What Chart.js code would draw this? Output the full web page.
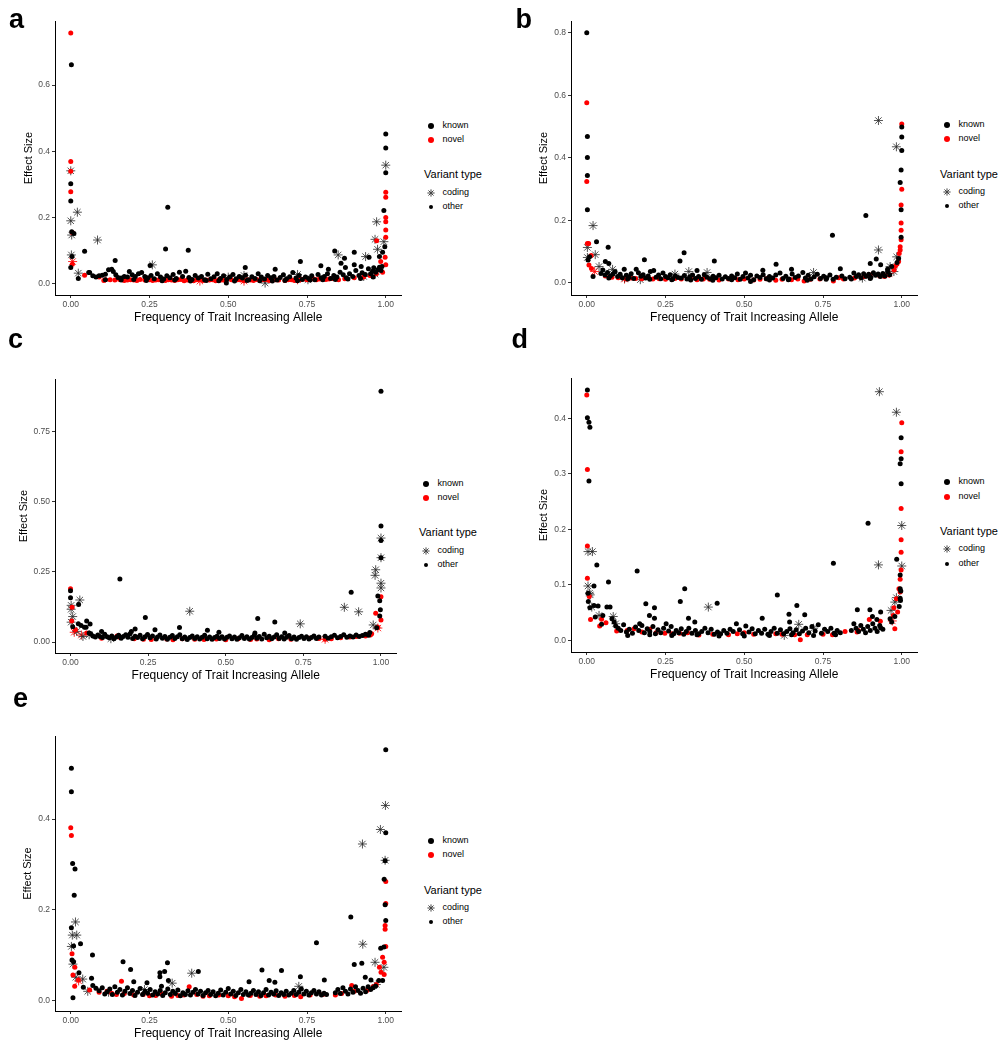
<!DOCTYPE html>
<html><head><meta charset="utf-8">
<script src="https://cdn.jsdelivr.net/npm/chart.js@4.4.1/dist/chart.umd.min.js"></script>
<style>
html,body{margin:0;padding:0;background:#fff;}
body{width:1008px;height:1050px;position:relative;overflow:hidden;font-family:"Liberation Sans",Arial,sans-serif;}
.box{position:absolute;}
.lbl{position:absolute;font-weight:bold;font-size:27px;line-height:27px;color:#000;white-space:nowrap;}
.lt{position:absolute;white-space:nowrap;color:#000;}
.dot{position:absolute;border-radius:50%;}
</style>
</head><body>
<script>
// ---------- tick / label data ----------
const xTicks=[0,0.25,0.5,0.75,1];
const xTickLabels=['0.00','0.25','0.50','0.75','1.00'];
const aYTicks=[0,0.2,0.4,0.6];       const aYTickLabels=['0.0','0.2','0.4','0.6'];
const bYTicks=[0,0.2,0.4,0.6,0.8];   const bYTickLabels=['0.0','0.2','0.4','0.6','0.8'];
const cYTicks=[0,0.25,0.5,0.75];     const cYTickLabels=['0.00','0.25','0.50','0.75'];
const dYTicks=[0,0.1,0.2,0.3,0.4];   const dYTickLabels=['0.0','0.1','0.2','0.3','0.4'];
const eYTicks=[0,0.2,0.4];           const eYTickLabels=['0.0','0.2','0.4'];
const xTitle='Frequency of Trait Increasing Allele';
const yTitle='Effect Size';
const colourLabels=['known','novel'];
const shapeTitle='Variant type';
const shapeLabels=['coding','other'];
const panelLetters=['a','b','c','d','e'];

// ---------- panel a ----------
const aKnownOther=[[0.002,0.661],[0.0,0.302],[0.0,0.25],[0.003,0.157],[0.01,0.152],[0.004,0.082],[0.0,0.049],[0.044,0.098],[0.024,0.016],[0.057,0.034],[0.308,0.231],[0.301,0.105],[0.373,0.101],[0.252,0.055],[0.141,0.07],[0.554,0.049],[0.649,0.044],[0.729,0.067],[0.794,0.054],[0.818,0.044],[0.838,0.099],[0.869,0.077],[0.858,0.062],[0.872,0.049],[0.9,0.095],[0.9,0.057],[0.922,0.052],[0.947,0.08],[0.494,0.002],[1.0,0.452],[1.0,0.41],[1.0,0.335],[0.994,0.221],[0.997,0.112],[0.99,0.095],[0.98,0.082],[0.988,0.052],
[0.06,0.034],[0.07,0.024],[0.08,0.02],[0.09,0.024],[0.1,0.026],[0.11,0.029],[0.12,0.042],[0.13,0.044],[0.135,0.037],[0.143,0.027],[0.15,0.019],[0.16,0.017],[0.17,0.022],[0.18,0.02],[0.186,0.037],[0.195,0.027],[0.205,0.022],[0.215,0.03],[0.225,0.034],[0.235,0.022],[0.245,0.018],[0.255,0.025],[0.265,0.015],[0.275,0.03],[0.285,0.02],[0.295,0.014],[0.305,0.024],[0.315,0.018],[0.325,0.028],[0.335,0.016],[0.345,0.035],[0.355,0.022],[0.365,0.038],[0.375,0.019],[0.385,0.013],[0.395,0.025],[0.405,0.017],[0.415,0.022],[0.425,0.012],[0.435,0.029],[0.445,0.015],[0.455,0.021],[0.465,0.03],[0.475,0.016],[0.485,0.024],[0.495,0.013],[0.505,0.02],[0.515,0.028],[0.525,0.015],[0.535,0.022],[0.545,0.017],[0.555,0.026],[0.565,0.012],[0.575,0.021],[0.585,0.016],[0.595,0.03],[0.605,0.02],[0.615,0.014],[0.625,0.025],[0.635,0.018],[0.645,0.022],[0.655,0.011],[0.665,0.019],[0.675,0.027],[0.685,0.015],[0.695,0.021],[0.705,0.034],[0.715,0.017],[0.725,0.025],[0.735,0.013],[0.745,0.02],[0.755,0.016],[0.765,0.024],[0.775,0.012],[0.785,0.028],[0.795,0.018],[0.805,0.022],[0.815,0.03],[0.825,0.016],[0.835,0.025],[0.845,0.02],[0.855,0.035],[0.865,0.027],[0.875,0.018],[0.885,0.03],[0.895,0.022],[0.905,0.04],[0.915,0.025],[0.925,0.033],[0.935,0.028],[0.945,0.045],[0.952,0.03],[0.958,0.038],[0.962,0.048],[0.968,0.035],[0.975,0.042],[0.98,0.05],[0.985,0.04],
[0.11,0.012],[0.16,0.011],[0.2,0.013],[0.24,0.01],[0.29,0.009],[0.33,0.011],[0.38,0.008],[0.43,0.01],[0.47,0.009],[0.52,0.008],[0.56,0.01],[0.6,0.009],[0.64,0.008],[0.68,0.01],[0.72,0.009],[0.76,0.011],[0.8,0.012],[0.84,0.013],[0.88,0.014],[0.92,0.016],[0.96,0.02]];
const aNovelOther=[[0.0,0.757],[0.0,0.369],[0.0,0.34],[0.0,0.278],[0.005,0.155],[0.005,0.059],[0.044,0.026],[1.0,0.276],[1.0,0.261],[1.0,0.2],[1.0,0.187],[1.0,0.162],[1.0,0.14],[0.971,0.13],[0.998,0.08],[0.984,0.067],[1.0,0.057],
[0.09,0.02],[0.11,0.012],[0.14,0.011],[0.155,0.013],[0.17,0.01],[0.19,0.012],[0.2,0.011],[0.22,0.013],[0.25,0.012],[0.27,0.011],[0.29,0.014],[0.31,0.012],[0.33,0.01],[0.35,0.013],[0.37,0.011],[0.39,0.009],[0.4,0.012],[0.42,0.01],[0.44,0.011],[0.46,0.009],[0.47,0.012],[0.49,0.01],[0.53,0.012],[0.55,0.009],[0.57,0.011],[0.59,0.013],[0.61,0.012],[0.63,0.01],[0.66,0.011],[0.69,0.012],[0.71,0.01],[0.73,0.013],[0.75,0.012],[0.77,0.015],[0.79,0.014],[0.81,0.013],[0.83,0.016],[0.85,0.012],[0.87,0.015],[0.9,0.018],[0.93,0.02],[0.95,0.025],[0.97,0.03],[0.99,0.035],
[0.105,0.01],[0.125,0.012],[0.165,0.012],[0.18,0.011],[0.21,0.01],[0.235,0.011],[0.26,0.01],[0.28,0.012],[0.3,0.01],[0.32,0.011],[0.34,0.012],[0.36,0.009],[0.38,0.011],[0.41,0.012],[0.43,0.011],[0.45,0.012],[0.48,0.011],[0.51,0.012],[0.54,0.011],[0.56,0.012],[0.58,0.01],[0.6,0.011],[0.62,0.013],[0.65,0.012],[0.68,0.01],[0.7,0.012],[0.72,0.011],[0.74,0.014],[0.76,0.013],[0.78,0.012],[0.8,0.015],[0.82,0.014],[0.84,0.015]];
const aKnownCoding=[[0.0,0.341],[0.021,0.216],[0.0,0.19],[0.003,0.147],[0.085,0.132],[0.002,0.087],[0.024,0.032],[0.259,0.057],[0.849,0.087],[0.936,0.082],[0.617,0.002],[0.753,0.012],[1.0,0.358],[0.971,0.187],[0.966,0.134],[0.994,0.127],[0.974,0.104],[0.966,0.029],[0.5,0.02],[0.55,0.025],[0.72,0.028],[0.93,0.022]];
const aNovelCoding=[[0.006,0.067],[0.41,0.008],[0.55,0.008],[0.72,0.012]];

// ---------- panel b ----------
const bKnownOther=[[0.0,0.8],[0.002,0.468],[0.002,0.401],[0.002,0.343],[0.002,0.234],[0.031,0.131],[0.068,0.114],[0.009,0.083],[0.004,0.073],[0.059,0.068],[0.07,0.062],[0.02,0.02],[0.183,0.074],[0.309,0.096],[0.296,0.07],[0.405,0.07],[0.35,0.039],[0.601,0.059],[0.559,0.04],[0.65,0.043],[0.78,0.152],[0.886,0.215],[0.805,0.045],[0.9,0.062],[0.919,0.076],[0.933,0.058],[0.968,0.052],[0.955,0.043],[1.0,0.498],[1.0,0.466],[1.0,0.423],[0.998,0.361],[0.995,0.321],[0.998,0.234],[0.998,0.146],[0.99,0.078],[0.985,0.065],
[0.045,0.03],[0.051,0.041],[0.058,0.025],[0.066,0.033],[0.075,0.022],[0.083,0.028],[0.09,0.035],[0.098,0.02],[0.106,0.027],[0.113,0.016],[0.119,0.043],[0.126,0.024],[0.134,0.018],[0.141,0.029],[0.149,0.014],[0.157,0.043],[0.164,0.032],[0.172,0.021],[0.179,0.026],[0.187,0.015],[0.195,0.022],[0.202,0.036],[0.2125,0.039],[0.22,0.018],[0.228,0.025],[0.235,0.013],[0.242,0.031],[0.25,0.02],[0.258,0.016],[0.265,0.026],[0.273,0.012],[0.281,0.022],[0.29,0.017],[0.3,0.015],[0.31,0.023],[0.318,0.012],[0.327,0.019],[0.336,0.025],[0.345,0.014],[0.355,0.02],[0.364,0.011],[0.373,0.026],[0.382,0.018],[0.392,0.013],[0.401,0.021],[0.41,0.016],[0.42,0.024],[0.43,0.012],[0.44,0.019],[0.45,0.014],[0.46,0.022],[0.47,0.016],[0.478,0.028],[0.487,0.011],[0.496,0.02],[0.504,0.031],[0.512,0.015],[0.52,0.024],[0.53,0.01],[0.54,0.022],[0.55,0.017],[0.56,0.026],[0.57,0.013],[0.58,0.02],[0.59,0.015],[0.6,0.025],[0.6135,0.031],[0.623,0.014],[0.632,0.021],[0.642,0.012],[0.652,0.028],[0.662,0.017],[0.672,0.022],[0.686,0.033],[0.694,0.015],[0.703,0.024],[0.712,0.012],[0.722,0.019],[0.732,0.027],[0.742,0.014],[0.752,0.021],[0.762,0.016],[0.772,0.025],[0.782,0.011],[0.792,0.018],[0.81,0.022],[0.82,0.013],[0.835,0.018],[0.848,0.031],[0.856,0.02],[0.863,0.026],[0.871,0.016],[0.879,0.029],[0.887,0.021],[0.895,0.027],[0.902,0.018],[0.91,0.032],[0.917,0.024],[0.925,0.028],[0.932,0.02],[0.94,0.03],[0.947,0.022],[0.955,0.035],[0.962,0.026],
[0.07,0.015],[0.13,0.012],[0.2,0.011],[0.27,0.01],[0.33,0.009],[0.4,0.008],[0.46,0.01],[0.52,0.004],[0.58,0.009],[0.64,0.01],[0.7,0.008],[0.76,0.011],[0.84,0.012],[0.9,0.014]];
const bNovelOther=[[0.0,0.576],[0.0,0.324],[0.002,0.126],[0.006,0.126],[0.014,0.087],[0.007,0.057],[0.015,0.046],[1.0,0.508],[1.0,0.299],[0.998,0.249],[0.998,0.191],[0.998,0.168],[0.998,0.138],[0.995,0.115],[0.995,0.105],[0.992,0.094],[0.99,0.068],[0.985,0.06],[0.98,0.054],[0.976,0.041],
[0.059,0.022],[0.08,0.018],[0.1,0.016],[0.124,0.012],[0.14,0.015],[0.155,0.014],[0.175,0.013],[0.195,0.017],[0.21,0.012],[0.23,0.013],[0.25,0.011],[0.28,0.014],[0.3,0.012],[0.33,0.013],[0.35,0.01],[0.37,0.012],[0.39,0.011],[0.42,0.009],[0.45,0.012],[0.48,0.01],[0.5,0.012],[0.53,0.009],[0.55,0.011],[0.57,0.013],[0.6,0.008],[0.62,0.011],[0.65,0.01],[0.67,0.012],[0.69,0.006],[0.71,0.011],[0.74,0.012],[0.76,0.014],[0.783,0.006],[0.8,0.016],[0.815,0.012],[0.85,0.015],[0.88,0.02],[0.9,0.025],[0.93,0.022],[0.945,0.02],[0.96,0.025]];
const bKnownCoding=[[0.02,0.183],[0.002,0.113],[0.027,0.09],[0.002,0.081],[0.039,0.052],[0.082,0.043],[0.324,0.036],[0.382,0.033],[0.72,0.033],[0.926,0.105],[0.926,0.519],[0.983,0.435],[0.963,0.052],[0.984,0.083],[0.975,0.036],[0.17,0.01],[0.28,0.028],[0.875,0.015],[0.12,0.015]];
const bNovelCoding=[[0.025,0.036],[0.12,0.012],[0.96,0.03]];

// ---------- panel c ----------
const cKnownOther=[[0.0,0.183],[0.0,0.158],[0.026,0.134],[0.007,0.055],[0.052,0.075],[0.063,0.064],[0.025,0.065],[0.034,0.059],[0.05,0.053],[0.045,0.053],[0.06,0.032],[0.159,0.225],[0.241,0.088],[0.351,0.052],[0.208,0.047],[0.441,0.042],[0.478,0.035],[0.603,0.084],[0.658,0.072],[0.594,0.032],[0.69,0.032],[0.904,0.178],[1.0,0.895],[1.0,0.414],[1.0,0.362],[1.0,0.301],[0.99,0.164],[0.996,0.147],[0.998,0.115],[0.996,0.093],[0.986,0.051],[0.964,0.034],
[0.065,0.03],[0.072,0.022],[0.08,0.018],[0.088,0.025],[0.095,0.02],[0.1,0.038],[0.103,0.016],[0.11,0.028],[0.118,0.019],[0.125,0.015],[0.133,0.022],[0.14,0.012],[0.148,0.018],[0.155,0.024],[0.163,0.014],[0.17,0.02],[0.178,0.026],[0.185,0.017],[0.192,0.03],[0.196,0.038],[0.2,0.013],[0.208,0.021],[0.216,0.016],[0.224,0.024],[0.232,0.012],[0.24,0.019],[0.248,0.027],[0.256,0.015],[0.264,0.022],[0.272,0.044],[0.276,0.011],[0.28,0.018],[0.288,0.025],[0.296,0.014],[0.304,0.02],[0.312,0.01],[0.32,0.017],[0.328,0.023],[0.336,0.013],[0.344,0.019],[0.352,0.026],[0.36,0.012],[0.368,0.018],[0.376,0.009],[0.384,0.016],[0.392,0.022],[0.4,0.013],[0.408,0.019],[0.416,0.011],[0.424,0.017],[0.432,0.024],[0.44,0.012],[0.448,0.018],[0.456,0.01],[0.464,0.016],[0.472,0.021],[0.48,0.013],[0.488,0.019],[0.496,0.011],[0.504,0.017],[0.512,0.022],[0.52,0.012],[0.528,0.018],[0.536,0.01],[0.544,0.015],[0.552,0.023],[0.56,0.013],[0.568,0.019],[0.576,0.011],[0.584,0.016],[0.592,0.024],[0.6,0.014],[0.608,0.02],[0.616,0.011],[0.624,0.028],[0.632,0.015],[0.64,0.021],[0.648,0.012],[0.656,0.018],[0.664,0.026],[0.672,0.013],[0.68,0.019],[0.688,0.011],[0.696,0.017],[0.704,0.023],[0.712,0.012],[0.72,0.018],[0.728,0.01],[0.736,0.016],[0.744,0.021],[0.752,0.013],[0.76,0.019],[0.768,0.011],[0.776,0.016],[0.784,0.022],[0.792,0.013],[0.8,0.018],[0.82,0.021],[0.83,0.014],[0.84,0.019],[0.85,0.024],[0.86,0.015],[0.87,0.02],[0.88,0.026],[0.89,0.017],[0.9,0.022],[0.91,0.018],[0.92,0.025],[0.93,0.02],[0.94,0.023],[0.95,0.028],[0.96,0.024]];
const cNovelOther=[[0.0,0.19],[0.005,0.124],[0.004,0.075],[0.016,0.044],[0.052,0.032],[0.983,0.103],[1.0,0.162],[1.0,0.079],[0.99,0.053],[0.97,0.03],[0.966,0.025],
[0.1,0.014],[0.15,0.022],[0.16,0.016],[0.205,0.012],[0.235,0.01],[0.26,0.009],[0.31,0.011],[0.33,0.008],[0.36,0.012],[0.4,0.01],[0.43,0.009],[0.47,0.011],[0.5,0.008],[0.54,0.012],[0.58,0.009],[0.6,0.011],[0.64,0.008],[0.67,0.012],[0.71,0.01],[0.77,0.014],[0.8,0.013],[0.82,0.01],[0.84,0.012],[0.87,0.015],[0.9,0.018],[0.92,0.02],[0.95,0.022],[0.96,0.028]];
const cKnownCoding=[[0.03,0.15],[0.002,0.131],[0.002,0.117],[0.007,0.091],[0.002,0.071],[0.02,0.038],[0.06,0.026],[0.384,0.11],[0.74,0.065],[0.882,0.124],[0.928,0.108],[1.0,0.371],[1.0,0.301],[0.983,0.258],[0.981,0.238],[1.0,0.21],[1.0,0.193],[0.975,0.061],[0.04,0.02],[0.13,0.012]];
const cNovelCoding=[[0.99,0.05],[0.012,0.035],[0.035,0.025],[0.82,0.01]];

// ---------- panel d ----------
const dKnownOther=[[0.002,0.451],[0.002,0.401],[0.007,0.393],[0.01,0.384],[0.007,0.287],[0.032,0.136],[0.023,0.098],[0.004,0.085],[0.005,0.07],[0.01,0.059],[0.023,0.063],[0.036,0.062],[0.027,0.042],[0.051,0.045],[0.047,0.029],[0.064,0.06],[0.074,0.06],[0.069,0.105],[0.08,0.039],[0.087,0.033],[0.16,0.125],[0.1875,0.066],[0.215,0.059],[0.199,0.045],[0.215,0.04],[0.168,0.03],[0.297,0.07],[0.311,0.093],[0.323,0.04],[0.343,0.033],[0.414,0.067],[0.557,0.04],[0.605,0.082],[0.667,0.063],[0.642,0.047],[0.692,0.046],[0.644,0.033],[0.783,0.139],[0.893,0.211],[0.859,0.055],[0.899,0.055],[0.933,0.051],[0.907,0.043],[0.921,0.0375],[0.933,0.023],[0.998,0.365],[0.998,0.327],[0.995,0.318],[0.998,0.282],[0.984,0.146],[0.995,0.118],[0.995,0.093],[0.997,0.089],[0.995,0.076],[0.992,0.061],[0.978,0.043],[0.963,0.039],[0.968,0.033],[0.996,0.072],
[0.092,0.026],[0.1,0.022],[0.108,0.018],[0.117,0.028],[0.126,0.015],[0.135,0.02],[0.145,0.013],[0.155,0.024],[0.165,0.018],[0.175,0.027],[0.183,0.014],[0.192,0.021],[0.2,0.016],[0.21,0.025],[0.218,0.012],[0.226,0.019],[0.235,0.014],[0.244,0.022],[0.252,0.03],[0.26,0.017],[0.268,0.025],[0.276,0.012],[0.284,0.018],[0.292,0.014],[0.3,0.021],[0.308,0.011],[0.316,0.016],[0.324,0.022],[0.334,0.013],[0.345,0.018],[0.355,0.012],[0.365,0.016],[0.375,0.022],[0.385,0.014],[0.395,0.02],[0.405,0.011],[0.415,0.015],[0.425,0.012],[0.435,0.018],[0.445,0.013],[0.455,0.02],[0.465,0.016],[0.475,0.03],[0.485,0.019],[0.495,0.012],[0.505,0.026],[0.515,0.015],[0.525,0.021],[0.535,0.012],[0.545,0.018],[0.555,0.013],[0.565,0.02],[0.575,0.011],[0.585,0.016],[0.595,0.022],[0.605,0.013],[0.615,0.019],[0.625,0.012],[0.635,0.016],[0.645,0.021],[0.655,0.014],[0.665,0.019],[0.675,0.012],[0.685,0.017],[0.695,0.022],[0.705,0.014],[0.715,0.025],[0.725,0.017],[0.735,0.028],[0.745,0.013],[0.755,0.02],[0.765,0.016],[0.775,0.022],[0.785,0.013],[0.795,0.018],[0.805,0.014],[0.84,0.018],[0.848,0.03],[0.855,0.022],[0.863,0.016],[0.87,0.027],[0.878,0.02],[0.885,0.014],[0.892,0.025],[0.9,0.018],[0.908,0.03],[0.915,0.022],[0.922,0.016],[0.93,0.027],[0.94,0.02],
[0.13,0.009],[0.2,0.01],[0.27,0.009],[0.35,0.01],[0.42,0.008],[0.5,0.008],[0.58,0.009],[0.65,0.01],[0.72,0.009],[0.79,0.01]];
const dNovelOther=[[0.0,0.442],[0.002,0.308],[0.002,0.17],[0.002,0.112],[0.008,0.079],[0.012,0.0375],[0.041,0.026],[0.061,0.032],[0.047,0.038],[0.095,0.017],[0.678,0.001],[0.897,0.0375],[0.932,0.0345],[1.0,0.392],[0.998,0.34],[0.998,0.2375],[0.998,0.1815],[0.998,0.159],[0.998,0.127],[0.995,0.11],[0.991,0.093],[0.995,0.087],[0.983,0.075],[0.975,0.059],[0.987,0.051],[0.973,0.045],[0.978,0.021],
[0.128,0.018],[0.15,0.021],[0.175,0.015],[0.2,0.02],[0.22,0.014],[0.248,0.013],[0.27,0.012],[0.295,0.013],[0.32,0.014],[0.356,0.0095],[0.4,0.011],[0.45,0.01],[0.478,0.012],[0.5,0.014],[0.53,0.011],[0.6,0.012],[0.62,0.011],[0.66,0.01],[0.7,0.01],[0.75,0.011],[0.78,0.01],[0.82,0.016],[0.858,0.015],[0.862,0.018]];
const dKnownCoding=[[0.004,0.16],[0.018,0.16],[0.004,0.098],[0.009,0.085],[0.011,0.082],[0.016,0.06],[0.039,0.045],[0.084,0.043],[0.092,0.03],[0.386,0.06],[0.673,0.029],[0.627,0.009],[0.929,0.448],[0.983,0.411],[0.926,0.136],[0.966,0.054],[1.0,0.207],[1.0,0.134],[0.983,0.077],[0.978,0.069],[0.72,0.022]];
const dNovelCoding=[[0.97,0.035]];

// ---------- panel e ----------
const eKnownOther=[[0.002,0.512],[0.002,0.46],[0.006,0.302],[0.0135,0.29],[0.011,0.232],[0.002,0.16],[0.031,0.125],[0.009,0.12],[0.004,0.089],[0.009,0.085],[0.026,0.061],[0.069,0.1],[0.066,0.049],[0.007,0.006],[0.04,0.029],[0.07,0.033],[0.166,0.085],[0.19,0.068],[0.2,0.041],[0.242,0.039],[0.283,0.061],[0.283,0.052],[0.298,0.064],[0.307,0.083],[0.31,0.044],[0.405,0.064],[0.288,0.031],[0.566,0.041],[0.607,0.067],[0.63,0.044],[0.648,0.04],[0.669,0.066],[0.729,0.052],[0.78,0.127],[0.805,0.045],[0.889,0.184],[0.9,0.079],[0.924,0.082],[0.935,0.051],[0.953,0.045],[1.0,0.553],[1.0,0.37],[0.998,0.308],[0.995,0.267],[0.998,0.211],[1.0,0.176],[0.994,0.118],[0.984,0.115],[0.99,0.044],[0.978,0.044],
[0.08,0.027],[0.09,0.021],[0.1,0.028],[0.108,0.014],[0.116,0.019],[0.124,0.025],[0.132,0.013],[0.14,0.03],[0.148,0.018],[0.156,0.024],[0.164,0.012],[0.172,0.02],[0.18,0.028],[0.188,0.015],[0.196,0.022],[0.204,0.011],[0.212,0.018],[0.22,0.026],[0.228,0.013],[0.236,0.02],[0.244,0.016],[0.252,0.024],[0.26,0.012],[0.268,0.019],[0.276,0.014],[0.284,0.022],[0.292,0.011],[0.3,0.017],[0.308,0.025],[0.316,0.013],[0.324,0.02],[0.332,0.015],[0.34,0.023],[0.348,0.01],[0.356,0.017],[0.364,0.013],[0.372,0.021],[0.38,0.012],[0.388,0.018],[0.396,0.024],[0.404,0.014],[0.412,0.02],[0.42,0.011],[0.428,0.017],[0.436,0.022],[0.444,0.013],[0.452,0.019],[0.46,0.01],[0.468,0.016],[0.476,0.023],[0.484,0.012],[0.492,0.018],[0.5,0.026],[0.508,0.014],[0.516,0.02],[0.524,0.011],[0.532,0.017],[0.54,0.024],[0.548,0.013],[0.556,0.019],[0.564,0.012],[0.572,0.016],[0.58,0.022],[0.588,0.013],[0.596,0.019],[0.604,0.011],[0.612,0.017],[0.62,0.024],[0.628,0.012],[0.636,0.018],[0.644,0.014],[0.652,0.021],[0.66,0.011],[0.668,0.017],[0.676,0.013],[0.684,0.02],[0.692,0.012],[0.7,0.016],[0.708,0.022],[0.716,0.013],[0.724,0.018],[0.732,0.025],[0.74,0.014],[0.748,0.02],[0.756,0.012],[0.764,0.017],[0.772,0.022],[0.78,0.014],[0.788,0.019],[0.796,0.012],[0.804,0.016],[0.812,0.013],[0.84,0.017],[0.848,0.024],[0.856,0.015],[0.864,0.028],[0.872,0.02],[0.88,0.014],[0.888,0.025],[0.896,0.018],[0.904,0.03],[0.912,0.022],[0.92,0.016],[0.928,0.027],[0.936,0.019],[0.944,0.03],[0.952,0.024],[0.96,0.028],[0.968,0.032]];
const eNovelOther=[[0.0,0.381],[0.002,0.364],[0.004,0.103],[0.013,0.073],[0.007,0.056],[0.024,0.045],[0.0125,0.031],[0.06,0.023],[0.161,0.042],[0.376,0.03],[1.0,0.262],[1.0,0.214],[0.998,0.165],[0.998,0.157],[1.0,0.119],[0.99,0.095],[0.995,0.084],[0.98,0.073],[0.985,0.062],[0.995,0.057],
[0.09,0.018],[0.115,0.02],[0.13,0.016],[0.145,0.013],[0.17,0.015],[0.2,0.012],[0.23,0.013],[0.25,0.01],[0.27,0.011],[0.29,0.014],[0.32,0.009],[0.34,0.011],[0.36,0.012],[0.4,0.013],[0.42,0.009],[0.44,0.01],[0.47,0.012],[0.5,0.01],[0.52,0.008],[0.542,0.004],[0.57,0.011],[0.6,0.009],[0.62,0.01],[0.65,0.012],[0.68,0.009],[0.71,0.011],[0.73,0.008],[0.76,0.012],[0.8,0.013],[0.84,0.012],[0.86,0.015],[0.892,0.033],[0.9,0.02],[0.94,0.022],[0.96,0.03],[0.97,0.035]];
const eKnownCoding=[[0.015,0.173],[0.005,0.144],[0.019,0.144],[0.002,0.119],[0.007,0.08],[0.016,0.051],[0.038,0.047],[0.054,0.02],[0.322,0.038],[0.384,0.06],[0.234,0.024],[0.724,0.031],[0.926,0.345],[0.927,0.124],[0.966,0.084],[0.983,0.377],[0.999,0.43],[0.998,0.309],[0.994,0.073],[0.97,0.035],[0.12,0.018]];
const eNovelCoding=[[0.025,0.043]];

// ---------- layout (positions only) ----------
const panels=[
 {id:'a',ko:aKnownOther,no:aNovelOther,kc:aKnownCoding,nc:aNovelCoding,yt:aYTicks,yl:aYTickLabels,box:[5,14,402,311],ymin:-0.034,ymax:0.793,ytp:17.4,leg:[430.7,125.7],lab:[9,29.3]},
 {id:'b',ko:bKnownOther,no:bNovelOther,kc:bKnownCoding,nc:bNovelCoding,yt:bYTicks,yl:bYTickLabels,box:[521,14,402,311],ymin:-0.039,ymax:0.837,ytp:16.7,leg:[946.7,125],lab:[515.5,29.3]},
 {id:'c',ko:cKnownOther,no:cNovelOther,kc:cKnownCoding,nc:cNovelCoding,yt:cYTicks,yl:cYTickLabels,box:[5,372,397,311],ymin:-0.039,ymax:0.938,ytp:12.4,leg:[425.7,483.7],lab:[8,349.3]},
 {id:'d',ko:dKnownOther,no:dNovelOther,kc:dKnownCoding,nc:dNovelCoding,yt:dYTicks,yl:dYTickLabels,box:[521,371,402,311],ymin:-0.0209,ymax:0.4725,ytp:16.7,leg:[946.7,482.3],lab:[511.5,349.3]},
 {id:'e',ko:eKnownOther,no:eNovelOther,kc:eKnownCoding,nc:eNovelCoding,yt:eYTicks,yl:eYTickLabels,box:[5,729,402,312],ymin:-0.0234,ymax:0.583,ytp:16.7,leg:[430.7,841],lab:[13,708.3]}
];

Chart.defaults.font.family='"Liberation Sans", Arial, sans-serif';
const pts=a=>a.map(p=>({x:p[0],y:p[1]}));
const STAR_COL='rgba(40,40,40,0.8)';

function el(tag,cls,style,text){const e=document.createElement(tag);if(cls)e.className=cls;Object.assign(e.style,style);if(text!=null)e.textContent=text;document.body.appendChild(e);return e;}

function starSvg(cx,cy){
  const ns='http://www.w3.org/2000/svg';
  const s=document.createElementNS(ns,'svg');
  s.setAttribute('width','10');s.setAttribute('height','10');
  s.style.position='absolute';s.style.left=(cx-5)+'px';s.style.top=(cy-5)+'px';
  const r=3.6,d=r*0.7071;
  [[5,5-r,5,5+r],[5-r,5,5+r,5],[5-d,5-d,5+d,5+d],[5-d,5+d,5+d,5-d]].forEach(l=>{
    const ln=document.createElementNS(ns,'line');
    ln.setAttribute('x1',l[0]);ln.setAttribute('y1',l[1]);ln.setAttribute('x2',l[2]);ln.setAttribute('y2',l[3]);
    ln.setAttribute('stroke','#444');ln.setAttribute('stroke-width','1');s.appendChild(ln);});
  document.body.appendChild(s);
}

panels.forEach((p,i)=>{
  const [L,T,W,H]=p.box;
  const box=el('div','box',{left:L+'px',top:T+'px',width:W+'px',height:H+'px'});
  const cv=document.createElement('canvas');box.appendChild(cv);
  const yt=p.yt, yl=p.yl;
  new Chart(cv,{
    type:'scatter',
    data:{datasets:[
      {data:pts(p.ko),pointStyle:'circle',pointRadius:2.5,backgroundColor:'#000',borderWidth:0},
      {data:pts(p.no),pointStyle:'circle',pointRadius:2.5,backgroundColor:'#ff0000',borderWidth:0},
      {data:pts(p.kc),pointStyle:'star',pointRadius:4.5,borderColor:STAR_COL,backgroundColor:STAR_COL,borderWidth:1},
      {data:pts(p.nc),pointStyle:'star',pointRadius:4.5,borderColor:'rgba(255,0,0,0.85)',backgroundColor:'#f00',borderWidth:1}
    ]},
    options:{
      animation:false,responsive:true,maintainAspectRatio:false,events:[],
      plugins:{legend:{display:false},tooltip:{enabled:false}},
      layout:{padding:{top:5,right:0,left:0,bottom:0}},
      scales:{
        x:{type:'linear',min:-0.05,max:1.05,
          afterBuildTicks:s=>{s.ticks=xTicks.map(v=>({value:v}));},
          afterFit:s=>{s.height=30;},
          ticks:{callback:(v,idx)=>xTickLabels[idx],font:{size:8.5},color:'#4d4d4d',padding:2,maxRotation:0,autoSkip:false},
          grid:{drawOnChartArea:false,drawTicks:true,tickLength:3,color:'#333',tickColor:'#333'},
          border:{display:true,color:'#000',width:1},
          title:{display:true,text:xTitle,font:{size:12},color:'#000',padding:{top:0,bottom:0.5}}},
        y:{type:'linear',min:p.ymin,max:p.ymax,
          afterBuildTicks:s=>{s.ticks=yt.map(v=>({value:v}));},
          afterFit:s=>{s.width=50;},
          ticks:{callback:(v,idx)=>yl[idx],font:{size:8.5},color:'#4d4d4d',padding:2,autoSkip:false},
          grid:{drawOnChartArea:false,drawTicks:true,tickLength:3,color:'#333',tickColor:'#333'},
          border:{display:true,color:'#000',width:1},
          title:{display:true,text:yTitle,font:{size:11},color:'#000',padding:{top:p.ytp,bottom:0}}}
      }
    }
  });
  // panel letter
  el('div','lbl',{left:p.lab[0]+'px',top:(p.lab[1]-22.9)+'px'},panelLetters[i]);
  // legend
  const [dx,dy]=p.leg;
  el('div','dot',{left:(dx-3)+'px',top:(dy-3)+'px',width:'6px',height:'6px',background:'#000'});
  el('div','dot',{left:(dx-3)+'px',top:(dy+14.2-3)+'px',width:'6px',height:'6px',background:'#ff0000'});
  el('div','lt',{left:(dx+11.8)+'px',top:(dy-5)+'px',fontSize:'9px',lineHeight:'9px'},colourLabels[0]);
  el('div','lt',{left:(dx+11.8)+'px',top:(dy+14.2-5)+'px',fontSize:'9px',lineHeight:'9px'},colourLabels[1]);
  el('div','lt',{left:(dx-6.7)+'px',top:(dy+49.8-6.2)+'px',fontSize:'11px',lineHeight:'11px'},shapeTitle);
  starSvg(dx,dy+66.8);
  el('div','dot',{left:(dx-2)+'px',top:(dy+81.2-2)+'px',width:'4px',height:'4px',background:'#000'});
  el('div','lt',{left:(dx+11.8)+'px',top:(dy+66.8-5)+'px',fontSize:'9px',lineHeight:'9px'},shapeLabels[0]);
  el('div','lt',{left:(dx+11.8)+'px',top:(dy+81.2-5)+'px',fontSize:'9px',lineHeight:'9px'},shapeLabels[1]);
});
</script>
</body></html>
